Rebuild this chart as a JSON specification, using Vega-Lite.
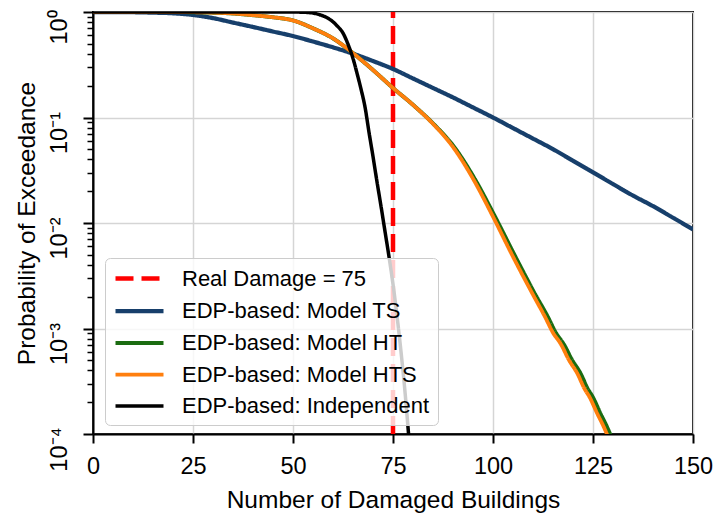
{
  "$schema": "https://vega.github.io/schema/vega-lite/v6.json",
  "width": 600,
  "height": 422,
  "autosize": {"type": "none"},
  "padding": {"left": 93, "top": 12, "right": 22, "bottom": 81},
  "background": "white",
  "config": {"view": {"stroke": "black", "strokeWidth": 2}, "font": "Liberation Sans"},
  "data": {"values": [
    {"s": "Real Damage = 75", "x": 75, "p": 0.0001},
    {"s": "Real Damage = 75", "x": 75, "p": 1},
    {"s": "EDP-based: Model TS", "x": 0, "p": 1},
    {"s": "EDP-based: Model TS", "x": 5, "p": 1},
    {"s": "EDP-based: Model TS", "x": 10, "p": 0.9954},
    {"s": "EDP-based: Model TS", "x": 15, "p": 0.9863},
    {"s": "EDP-based: Model TS", "x": 20, "p": 0.9727},
    {"s": "EDP-based: Model TS", "x": 25, "p": 0.9376},
    {"s": "EDP-based: Model TS", "x": 30, "p": 0.875},
    {"s": "EDP-based: Model TS", "x": 35, "p": 0.7943},
    {"s": "EDP-based: Model TS", "x": 40, "p": 0.7211},
    {"s": "EDP-based: Model TS", "x": 45, "p": 0.6531},
    {"s": "EDP-based: Model TS", "x": 50, "p": 0.5916},
    {"s": "EDP-based: Model TS", "x": 55, "p": 0.5248},
    {"s": "EDP-based: Model TS", "x": 60, "p": 0.4624},
    {"s": "EDP-based: Model TS", "x": 65, "p": 0.4027},
    {"s": "EDP-based: Model TS", "x": 70, "p": 0.3428},
    {"s": "EDP-based: Model TS", "x": 75, "p": 0.2884},
    {"s": "EDP-based: Model TS", "x": 80, "p": 0.2344},
    {"s": "EDP-based: Model TS", "x": 85, "p": 0.1905},
    {"s": "EDP-based: Model TS", "x": 90, "p": 0.1549},
    {"s": "EDP-based: Model TS", "x": 95, "p": 0.1245},
    {"s": "EDP-based: Model TS", "x": 100, "p": 0.1},
    {"s": "EDP-based: Model TS", "x": 105, "p": 0.0794},
    {"s": "EDP-based: Model TS", "x": 110, "p": 0.0631},
    {"s": "EDP-based: Model TS", "x": 115, "p": 0.0501},
    {"s": "EDP-based: Model TS", "x": 120, "p": 0.0389},
    {"s": "EDP-based: Model TS", "x": 125, "p": 0.0302},
    {"s": "EDP-based: Model TS", "x": 130, "p": 0.0234},
    {"s": "EDP-based: Model TS", "x": 135, "p": 0.0182},
    {"s": "EDP-based: Model TS", "x": 140, "p": 0.01445},
    {"s": "EDP-based: Model TS", "x": 145, "p": 0.01122},
    {"s": "EDP-based: Model TS", "x": 150, "p": 0.00871},
    {"s": "EDP-based: Model HT", "x": 0, "p": 1},
    {"s": "EDP-based: Model HT", "x": 20, "p": 1},
    {"s": "EDP-based: Model HT", "x": 25, "p": 0.9954},
    {"s": "EDP-based: Model HT", "x": 30, "p": 0.9863},
    {"s": "EDP-based: Model HT", "x": 35, "p": 0.9683},
    {"s": "EDP-based: Model HT", "x": 40, "p": 0.9333},
    {"s": "EDP-based: Model HT", "x": 45, "p": 0.8913},
    {"s": "EDP-based: Model HT", "x": 50, "p": 0.8318},
    {"s": "EDP-based: Model HT", "x": 55, "p": 0.6998},
    {"s": "EDP-based: Model HT", "x": 60, "p": 0.5623},
    {"s": "EDP-based: Model HT", "x": 65, "p": 0.4074},
    {"s": "EDP-based: Model HT", "x": 70, "p": 0.2818},
    {"s": "EDP-based: Model HT", "x": 75, "p": 0.1905},
    {"s": "EDP-based: Model HT", "x": 80, "p": 0.1318},
    {"s": "EDP-based: Model HT", "x": 85.1, "p": 0.0871},
    {"s": "EDP-based: Model HT", "x": 90.3, "p": 0.0525},
    {"s": "EDP-based: Model HT", "x": 95.4, "p": 0.0263},
    {"s": "EDP-based: Model HT", "x": 100.5, "p": 0.01148},
    {"s": "EDP-based: Model HT", "x": 105.6, "p": 0.00479},
    {"s": "EDP-based: Model HT", "x": 110.6, "p": 0.00209},
    {"s": "EDP-based: Model HT", "x": 113.7, "p": 0.00129},
    {"s": "EDP-based: Model HT", "x": 115.7, "p": 0.000912},
    {"s": "EDP-based: Model HT", "x": 117.7, "p": 0.000708},
    {"s": "EDP-based: Model HT", "x": 119.8, "p": 0.000501},
    {"s": "EDP-based: Model HT", "x": 121.8, "p": 0.00038},
    {"s": "EDP-based: Model HT", "x": 123.8, "p": 0.000263},
    {"s": "EDP-based: Model HT", "x": 124.8, "p": 0.000229},
    {"s": "EDP-based: Model HT", "x": 126.8, "p": 0.000158},
    {"s": "EDP-based: Model HT", "x": 128.8, "p": 0.00011},
    {"s": "EDP-based: Model HT", "x": 129.8, "p": 0.0000891},
    {"s": "EDP-based: Model HTS", "x": 0, "p": 1},
    {"s": "EDP-based: Model HTS", "x": 20, "p": 1},
    {"s": "EDP-based: Model HTS", "x": 25, "p": 0.9954},
    {"s": "EDP-based: Model HTS", "x": 30, "p": 0.9863},
    {"s": "EDP-based: Model HTS", "x": 35, "p": 0.9683},
    {"s": "EDP-based: Model HTS", "x": 40, "p": 0.9333},
    {"s": "EDP-based: Model HTS", "x": 45, "p": 0.8913},
    {"s": "EDP-based: Model HTS", "x": 50, "p": 0.8318},
    {"s": "EDP-based: Model HTS", "x": 55, "p": 0.6998},
    {"s": "EDP-based: Model HTS", "x": 60, "p": 0.5623},
    {"s": "EDP-based: Model HTS", "x": 65, "p": 0.4074},
    {"s": "EDP-based: Model HTS", "x": 70, "p": 0.2818},
    {"s": "EDP-based: Model HTS", "x": 75, "p": 0.1905},
    {"s": "EDP-based: Model HTS", "x": 80, "p": 0.1318},
    {"s": "EDP-based: Model HTS", "x": 85, "p": 0.0871},
    {"s": "EDP-based: Model HTS", "x": 90, "p": 0.0525},
    {"s": "EDP-based: Model HTS", "x": 95, "p": 0.0263},
    {"s": "EDP-based: Model HTS", "x": 100, "p": 0.01148},
    {"s": "EDP-based: Model HTS", "x": 105, "p": 0.00479},
    {"s": "EDP-based: Model HTS", "x": 110, "p": 0.00209},
    {"s": "EDP-based: Model HTS", "x": 113, "p": 0.00129},
    {"s": "EDP-based: Model HTS", "x": 115, "p": 0.000912},
    {"s": "EDP-based: Model HTS", "x": 117, "p": 0.000708},
    {"s": "EDP-based: Model HTS", "x": 119, "p": 0.000501},
    {"s": "EDP-based: Model HTS", "x": 121, "p": 0.00038},
    {"s": "EDP-based: Model HTS", "x": 123, "p": 0.000263},
    {"s": "EDP-based: Model HTS", "x": 124, "p": 0.000229},
    {"s": "EDP-based: Model HTS", "x": 126, "p": 0.000158},
    {"s": "EDP-based: Model HTS", "x": 128, "p": 0.00011},
    {"s": "EDP-based: Model HTS", "x": 129, "p": 0.0000891},
    {"s": "EDP-based: Independent", "x": 0, "p": 1},
    {"s": "EDP-based: Independent", "x": 45, "p": 1},
    {"s": "EDP-based: Independent", "x": 50, "p": 0.9989},
    {"s": "EDP-based: Independent", "x": 53, "p": 0.9931},
    {"s": "EDP-based: Independent", "x": 55, "p": 0.9772},
    {"s": "EDP-based: Independent", "x": 57, "p": 0.9333},
    {"s": "EDP-based: Independent", "x": 59, "p": 0.861},
    {"s": "EDP-based: Independent", "x": 61, "p": 0.7413},
    {"s": "EDP-based: Independent", "x": 62.5, "p": 0.631},
    {"s": "EDP-based: Independent", "x": 64, "p": 0.4677},
    {"s": "EDP-based: Independent", "x": 65, "p": 0.3631},
    {"s": "EDP-based: Independent", "x": 66, "p": 0.263},
    {"s": "EDP-based: Independent", "x": 67, "p": 0.1862},
    {"s": "EDP-based: Independent", "x": 68, "p": 0.1259},
    {"s": "EDP-based: Independent", "x": 69, "p": 0.0724},
    {"s": "EDP-based: Independent", "x": 70, "p": 0.0427},
    {"s": "EDP-based: Independent", "x": 71, "p": 0.02455},
    {"s": "EDP-based: Independent", "x": 72, "p": 0.01445},
    {"s": "EDP-based: Independent", "x": 73, "p": 0.00832},
    {"s": "EDP-based: Independent", "x": 74, "p": 0.00479},
    {"s": "EDP-based: Independent", "x": 75, "p": 0.00263},
    {"s": "EDP-based: Independent", "x": 76, "p": 0.001318},
    {"s": "EDP-based: Independent", "x": 77, "p": 0.000603},
    {"s": "EDP-based: Independent", "x": 78, "p": 0.000251},
    {"s": "EDP-based: Independent", "x": 79, "p": 0.0000891},
    {"s": "EDP-based: Independent", "x": 80, "p": 0.0000316}
  ]},
  "mark": {"type": "line", "clip": true, "strokeCap": "butt", "interpolate": "monotone"},
  "encoding": {
    "x": {
      "field": "x", "type": "quantitative",
      "scale": {"domain": [0, 150], "nice": false, "zero": false},
      "axis": {
        "values": [0, 25, 50, 75, 100, 125, 150],
        "title": "Number of Damaged Buildings",
        "labelFontSize": 23.5, "labelColor": "black", "labelFlush": false,
        "labelBaseline": "alphabetic", "labelPadding": 30,
        "tickSize": 9, "tickWidth": 2, "tickColor": "black",
        "domainColor": "black", "domainWidth": 2,
        "gridColor": "#d5d5d5", "gridWidth": 1.5,
        "titleFontSize": 24.5, "titleFontWeight": "normal", "titleColor": "black",
        "titleY": 73, "titleBaseline": "alphabetic"
      }
    },
    "y": {
      "field": "p", "type": "quantitative",
      "scale": {"type": "log", "domain": [0.0001, 1], "nice": false},
      "axis": {
        "values": [0.0001, 0.0002, 0.0003, 0.0004, 0.0005, 0.0006, 0.0007, 0.0008, 0.0009,
                   0.001, 0.002, 0.003, 0.004, 0.005, 0.006, 0.007, 0.008, 0.009,
                   0.01, 0.02, 0.03, 0.04, 0.05, 0.06, 0.07, 0.08, 0.09,
                   0.1, 0.2, 0.3, 0.4, 0.5, 0.6, 0.7, 0.8, 0.9, 1],
        "labelExpr": "datum.value==1?'10⁰':datum.value==0.1?'10⁻¹':datum.value==0.01?'10⁻²':datum.value==0.001?'10⁻³':datum.value==0.0001?'10⁻⁴':''",
        "title": "Probability of Exceedance",
        "labelAngle": -90, "labelAlign": "center", "labelBaseline": "alphabetic",
        "labelPadding": 17, "labelOffset": 15,
        "labelFontSize": 23.5, "labelColor": "black", "labelOverlap": false, "labelFlush": false,
        "tickSize": {"condition": {"test": "indexof([1,0.1,0.01,0.001,0.0001], datum.value) >= 0", "value": 10}, "value": 6},
        "tickWidth": {"condition": {"test": "indexof([1,0.1,0.01,0.001,0.0001], datum.value) >= 0", "value": 2}, "value": 1.5},
        "tickColor": "black",
        "gridColor": "#d5d5d5", "gridWidth": 1.5,
        "gridOpacity": {"condition": {"test": "indexof([1,0.1,0.01,0.001,0.0001], datum.value) >= 0", "value": 1}, "value": 0},
        "domainColor": "black", "domainWidth": 2,
        "titleFontSize": 24.5, "titleFontWeight": "normal", "titleColor": "black",
        "titleX": -59, "titleY": 211, "titleAngle": -90, "titleAlign": "center", "titleBaseline": "alphabetic"
      }
    },
    "color": {
      "field": "s", "type": "nominal",
      "scale": {
        "domain": ["Real Damage = 75", "EDP-based: Model TS", "EDP-based: Model HT", "EDP-based: Model HTS", "EDP-based: Independent"],
        "range": ["#ff0000", "#173f6b", "#1b6c11", "#ff7f0e", "#000000"]
      },
      "legend": {
        "title": null, "orient": "none", "legendX": 12, "legendY": 246,
        "symbolType": "M-1,0H3.8", "symbolSize": 400, "symbolStrokeWidth": 4,
        "labelFontSize": 22, "labelColor": "black", "labelOffset": 44, "labelLimit": 400,
        "rowPadding": 8.5, "padding": 8,
        "fillColor": "rgba(255,255,255,0.8)", "strokeColor": "#cccccc", "cornerRadius": 5
      }
    },
    "strokeDash": {
      "field": "s", "type": "nominal",
      "scale": {
        "domain": ["Real Damage = 75", "EDP-based: Model TS", "EDP-based: Model HT", "EDP-based: Model HTS", "EDP-based: Independent"],
        "range": [[18, 8], [1, 0], [1, 0], [1, 0], [1, 0]]
      }
    },
    "strokeWidth": {
      "field": "s", "type": "nominal",
      "scale": {
        "domain": ["Real Damage = 75", "EDP-based: Model TS", "EDP-based: Model HT", "EDP-based: Model HTS", "EDP-based: Independent"],
        "range": [4.5, 3.5, 3.5, 3.5, 3.5]
      },
      "legend": null
    }
  }
}
